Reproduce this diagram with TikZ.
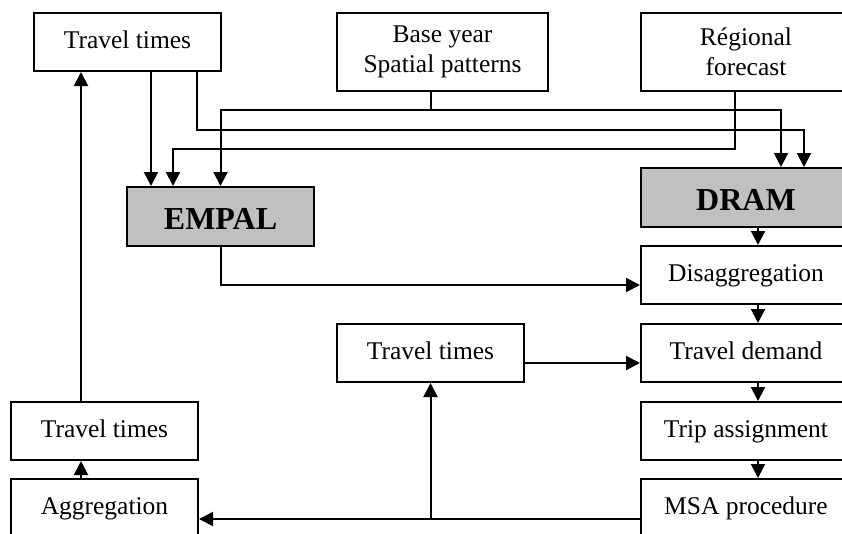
\documentclass[tikz,border=0pt]{standalone}
\usepackage{fontspec}
\setmainfont{Liberation Serif}
\usetikzlibrary{arrows.meta}
\definecolor{modelgray}{RGB}{192,192,192}

\begin{document}
\begin{tikzpicture}[
  x=1pt, y=-1pt,
  box/.style={draw, line width=2pt, rectangle, inner sep=0pt, minimum width=187pt, minimum height=58pt,
    font=\fontsize{25.5}{29.5}\selectfont, text height=18pt, text depth=5.5pt},
  widebox/.style={box, minimum width=210pt},
  notebox/.style={draw, line width=2pt, rectangle, inner sep=0pt, minimum width=211pt, minimum height=78pt,
    align=center, font=\fontsize{25.5}{30}\selectfont},
  model/.style={box, fill=modelgray, minimum height=59pt, font=\fontsize{32}{36}\selectfont\bfseries,
    text height=26pt, text depth=0pt},
  link/.style={draw, line width=2pt, -{Triangle[length=14pt,width=14pt]}}
]
\useasboundingbox (0,0) rectangle (842,533);
\clip (0,0) rectangle (842,533);

\node[box] (tt1) at (127.5,42) {Travel times};
\node[notebox] (base) at (442.5,52) {Base year\\Spatial patterns};
\node[notebox, minimum width=210pt] (reg) at (746,52) {Régional\\forecast};
\node[model] (empal) at (220.5,216.5) {EMPAL};
\node[model, minimum width=210pt] (dram) at (746,197.5) {DRAM};
\node[widebox] (disagg) at (746,275) {Disaggregation};
\node[box] (ttmid) at (430.5,353) {Travel times};
\node[widebox] (tdem) at (746,353) {Travel demand};
\node[widebox] (tassign) at (746,431) {Trip assignment};
\node[widebox] (msa) at (746,508) {MSA procedure};
\node[box] (ttleft) at (104.5,431) {Travel times};
\node[box] (aggr) at (104.5,508) {Aggregation};

\coordinate (tt1a) at ([xshift=23.5]tt1.south);
\coordinate (tt1b) at ([xshift=69.5]tt1.south);
\coordinate (basea) at ([xshift=-11.5]base.south);
\coordinate (rega) at ([xshift=-11]reg.south);
\coordinate (msaout) at ([yshift=-11]msa.west);
\coordinate (ttlefta) at ([xshift=-23.5]ttleft.north);

\draw[link] (tt1a) -- (tt1a |- empal.north);
\draw[link] (tt1b) -- ++(0,58) -| ([xshift=58]dram.north);
\draw[link] (basea) -- ++(0,18) -| (empal.north);
\draw[link] (basea) ++(0,18) -| ([xshift=35]dram.north);
\draw[link] (rega) -- ++(0,57) -| ([xshift=-47.5]empal.north);

\draw[link] (empal.south) |- ([yshift=-10]disagg.west);
\foreach \a/\b in {dram/disagg, disagg/tdem, tdem/tassign, tassign/msa}
  \draw[link] ([xshift=12]\a.south) -- ([xshift=12]\b.north);
\draw[link] ([yshift=-10]ttmid.east) -- ([yshift=-10]tdem.west);

\draw[link] (msaout) -- (msaout -| aggr.east);
\draw[link] (msaout -| ttmid.south) -- (ttmid.south);
\draw[link] ([xshift=-23.5]aggr.north) -- ([xshift=-23.5]ttleft.south);
\draw[link] (ttlefta) -- (ttlefta |- tt1.south);

\end{tikzpicture}
\end{document}
